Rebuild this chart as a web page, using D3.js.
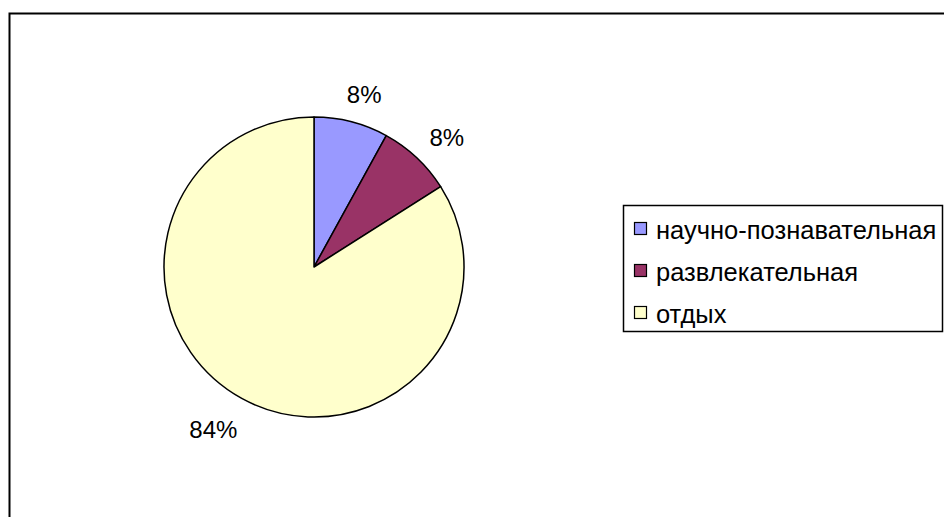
<!DOCTYPE html>
<html>
<head>
<meta charset="utf-8">
<script src="https://cdn.jsdelivr.net/npm/d3@7"></script>
<style>
  body { margin: 0; background: #fff; }
  text { font-family: Arial, "Liberation Sans", sans-serif; }
</style>
</head>
<body>
<script>
// данные диаграммы
var categories = ["научно-познавательная", "развлекательная", "отдых"];
var values = [8, 8, 84];
var colors = ["#9999ff", "#993366", "#ffffcc"];

var width = 944, height = 517;
var center = {x: 314, y: 267};
var radius = 150;

var svg = d3.select("body").append("svg")
  .attr("width", width)
  .attr("height", height);

// рамка области диаграммы
svg.append("rect")
  .attr("x", 9.5).attr("y", 13.5)
  .attr("width", 960).attr("height", 540)
  .attr("fill", "none")
  .attr("stroke", "#000")
  .attr("stroke-width", 2);

var pie = d3.pie().sort(null).value(function(d){ return d; });
var arcs = pie(values);
var total = d3.sum(values);

var arc = d3.arc().innerRadius(0).outerRadius(radius);

var g = svg.append("g")
  .attr("transform", "translate(" + center.x + "," + center.y + ")");

g.selectAll("path").data(arcs).enter().append("path")
  .attr("d", arc)
  .attr("fill", function(d,i){ return colors[i]; })
  .attr("stroke", "#000")
  .attr("stroke-width", 1.5)
  .attr("stroke-linejoin", "round");

// подписи долей
var labelR = 172;
var labelW = [35, 35, 49], labelH = 19;
g.selectAll(".lbl").data(arcs).enter().append("text")
  .attr("class", "lbl")
  .attr("text-anchor", "middle")
  .attr("dominant-baseline", "central")
  .attr("font-size", 24)
  .attr("x", function(d,i){
    var a = (d.startAngle + d.endAngle) / 2;
    var w = labelW[i];
    return Math.sin(a) * labelR + Math.sin(a) * w / 2 + (i == 2 ? -6 : 3);
  })
  .attr("y", function(d){
    var a = (d.startAngle + d.endAngle) / 2;
    return -Math.cos(a) * labelR - Math.cos(a) * labelH / 2 + 3;
  })
  .text(function(d){ return d3.format(".0%")(d.value / total); });

// легенда
var legend = svg.append("g");
legend.append("rect")
  .attr("x", 623.5).attr("y", 205.5)
  .attr("width", 319).attr("height", 126)
  .attr("fill", "#fff")
  .attr("stroke", "#000")
  .attr("stroke-width", 1.5);

var rowY = d3.scalePoint().domain(categories).range([229, 313]);

var items = legend.selectAll(".item").data(categories).enter().append("g")
  .attr("class", "item")
  .attr("transform", function(d){ return "translate(0," + rowY(d) + ")"; });

items.append("rect")
  .attr("x", 634.5).attr("y", -6.5)
  .attr("width", 12).attr("height", 12)
  .attr("fill", function(d,i){ return colors[i]; })
  .attr("stroke", "#000")
  .attr("stroke-width", 1.2);

items.append("text")
  .attr("x", 656)
  .attr("y", 1)
  .attr("dominant-baseline", "central")
  .attr("font-size", 25.5)
  .text(function(d){ return d; });
</script>
</body>
</html>
